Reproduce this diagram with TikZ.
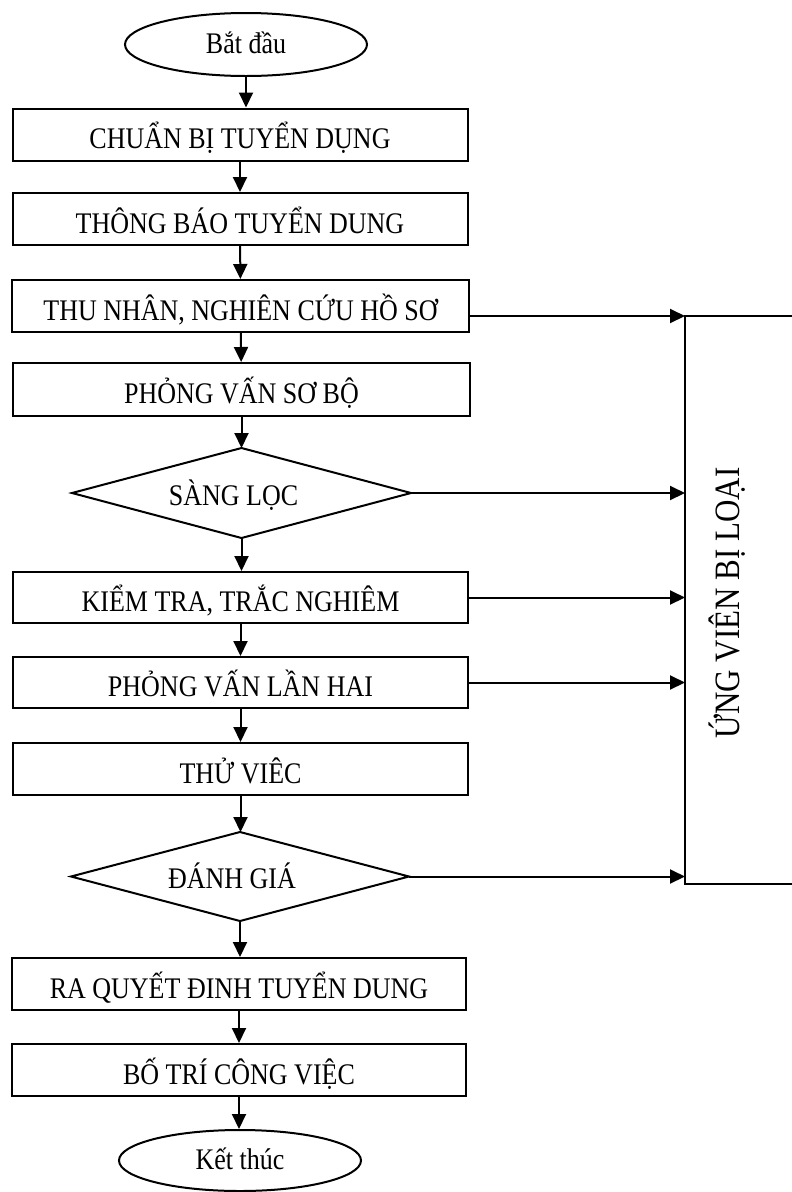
\documentclass[tikz,border=0pt]{standalone}
\usepackage{fontspec}
\usepackage{graphicx}
\setmainfont{Liberation Serif}
\usetikzlibrary{arrows.meta,shapes.geometric}
\newcommand{\vtext}[1]{\scalebox{1}[1.15]{#1}}
\begin{document}
\begin{tikzpicture}[x=1pt,y=-1pt,line width=2pt,
  txt/.style={font=\fontsize{26}{30}\selectfont,text height=30pt,text depth=2pt},
  box/.style={draw,rectangle,txt,inner sep=0pt,minimum width=455pt,minimum height=52pt},
  term/.style={draw,ellipse,txt,text height=20pt,text depth=2pt,inner sep=0pt,minimum width=242pt,minimum height=63pt},
  dec/.style={rectangle,txt,text height=26pt,text depth=2pt,inner sep=0pt,minimum width=337pt,minimum height=88pt},
  arr/.style={-{Triangle[length=15pt,width=14pt]}}]
\useasboundingbox (0,0) rectangle (792,1192);
\node[term] (e1) at (246,44.5) {\vtext{Bắt đầu}};
\node[box] (b1) at (240,134.5) {\vtext{CHUẨN BỊ TUYỂN DỤNG}};
\node[box] (b2) at (240,219) {\vtext{THÔNG BÁO TUYỂN DUNG}};
\node[box,minimum width=457pt] (b3) at (240.5,306) {\vtext{THU NHÂN, NGHIÊN CỨU HỒ SƠ}};
\node[box,minimum width=457pt,minimum height=53pt] (b4) at (241.5,389.5) {\vtext{PHỎNG VẤN SƠ BỘ}};
\node[dec] (d1) at (241.5,493) {\vtext{SÀNG LỌC}\hspace*{16pt}};
\draw (d1.north) -- (d1.east) -- (d1.south) -- (d1.west) -- cycle;
\node[box,minimum height=51pt] (b5) at (240.5,597.5) {\vtext{KIỂM TRA, TRẮC NGHIÊM}};
\node[box,minimum height=51pt] (b6) at (240.5,682.5) {\vtext{PHỎNG VẤN LẦN HAI}};
\node[box] (b7) at (240.5,769) {\vtext{THỬ VIÊC}};
\node[dec,minimum width=336pt,minimum height=87pt] (d2) at (240,876.5) {\vtext{ĐÁNH GIÁ}\hspace*{16pt}};
\draw (d2.north) -- (d2.east) -- (d2.south) -- (d2.west) -- cycle;
\node[box,minimum width=454pt] (b8) at (239,984) {\vtext{RA QUYẾT ĐINH TUYỂN DUNG}};
\node[box,minimum width=454pt] (b9) at (239,1070) {\vtext{BỐ TRÍ CÔNG VIỆC}};
\node[term,minimum height=61pt] (e2) at (240,1160.5) {\vtext{Kết thúc}};
% right box (open on the right)
\node[rectangle,inner sep=0pt,minimum width=106pt,minimum height=566pt] (R) at (739,600) {};
\node[rotate=90,font=\fontsize{31}{34}\selectfont] (RL) at (727,603) {\scalebox{1.0}[1.15]{ỨNG VIÊN BỊ LOẠI}};
\draw (R.north east) -- (R.north west) -- (R.south west) -- (R.south east);
% main flow
\draw[arr] (e1.south) -- (e1.south |- b1.north);
\draw[arr] (b1) -- (b2);
\draw[arr] (b2) -- (b3);
\draw[arr] (b3) -- (b4);
\draw[arr] (b4.south) -- (b4.south |- d1.north);
\draw[arr] (d1.south) -- (d1.south |- b5.north);
\draw[arr] (b5) -- (b6);
\draw[arr] (b6) -- (b7);
\draw[arr] (b7.south) -- (b7.south |- d2.north);
\draw[arr] (d2.south) -- (d2.south |- b8.north);
\draw[arr] (b8) -- (b9);
\draw[arr] (b9.south) -- (b9.south |- e2.north);
% rejections
\draw[arr] (b3.east |- R.north west) -- (R.north west);
\draw[arr] (d1.east) -- (R.west |- d1.east);
\draw[arr] (b5.east) -- (R.west |- b5.east);
\draw[arr] (b6.east) -- (R.west |- b6.east);
\draw[arr] (d2.east) -- (R.west |- d2.east);
\end{tikzpicture}
\end{document}
